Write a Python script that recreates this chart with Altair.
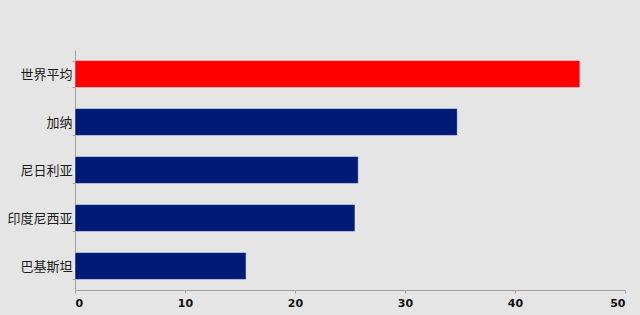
import altair as alt
import pandas as pd

countries = ["世界平均", "加纳", "尼日利亚", "印度尼西亚", "巴基斯坦"]
values = [45.9, 34.75, 25.75, 25.45, 15.55]
colors = ["#ff0000", "#001a78", "#001a78", "#001a78", "#001a78"]

df = pd.DataFrame({"country": countries, "value": values, "color": colors})

chart = alt.Chart(df).mark_bar(
    stroke="#ffffff", strokeOpacity=0.45, strokeWidth=1
).encode(
    y=alt.Y("country:N", sort=countries, title=None,
            scale=alt.Scale(paddingInner=0.44, paddingOuter=0.22),
            axis=alt.Axis(tickBand="extent", domainColor="#a0a0a0", tickColor="#a0a0a0",
                          tickSize=3, labelPadding=0, labelFontSize=13,
                          labelFont="Noto Sans CJK SC", labelColor="#1a1a1a",
                          grid=False)),
    x=alt.X("value:Q", title=None,
            scale=alt.Scale(domain=[0, 50], nice=False),
            axis=alt.Axis(values=[0, 10, 20, 30, 40, 50], domainColor="#a0a0a0",
                          tickColor="#a0a0a0", tickSize=3, labelPadding=4,
                          labelFontSize=11, labelFontWeight="bold", labelFont="DejaVu Sans",
                          labelColor="#111111", labelAngle=0, grid=False)),
    color=alt.Color("color:N", scale=None, legend=None),
).properties(
    width=550, height=240,
    background="#e5e5e5",
    padding={"left": 75, "top": 50, "right": 15, "bottom": 25},
    autosize=alt.AutoSizeParams(type="none"),
).configure_view(stroke=None)

chart.save("out.html", embed_options={"renderer": "svg", "actions": False})
